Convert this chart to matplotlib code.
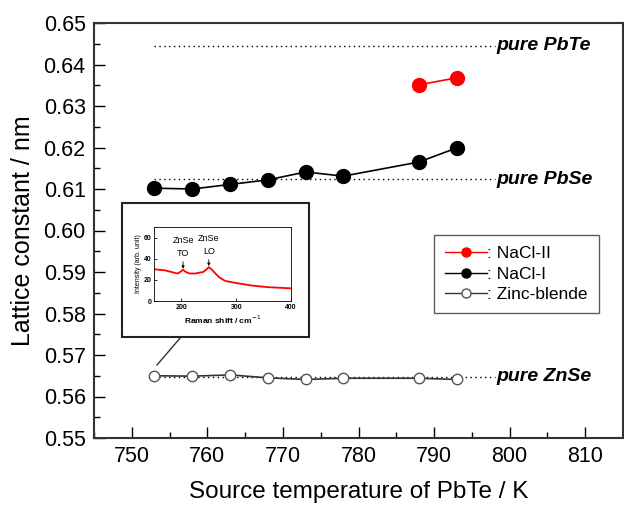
import matplotlib

matplotlib.use("Agg")
import matplotlib.pyplot as plt
from matplotlib.lines import Line2D
from matplotlib.patches import Rectangle

plt.rcParams["font.family"] = ["Liberation Sans", "DejaVu Sans"]

# main data
temp_nacl2 = [788, 793]
lat_nacl2 = [0.6351, 0.6368]
temp_nacl1 = [753, 758, 763, 768, 773, 778, 788, 793]
lat_nacl1 = [0.6102, 0.6100, 0.6111, 0.6122, 0.6141, 0.6131, 0.6165, 0.6199]
temp_zb = [753, 758, 763, 768, 773, 778, 788, 793]
lat_zb = [0.5650, 0.5649, 0.5652, 0.5645, 0.5641, 0.5644, 0.5644, 0.5641]

ref_names = ["pure PbTe", "pure PbSe", "pure ZnSe"]
ref_values = [0.6445, 0.6124, 0.5648]
ref_span = [753, 798]

# inset Raman spectrum
raman_shift = [150, 170, 185, 193, 198, 203, 208, 215, 225, 240, 246, 250, 255, 262,
               270, 280, 300, 330, 360, 400]
raman_int = [30, 29, 27, 26, 27.5, 29.5, 27.5, 26, 26, 27.5, 30, 32, 30, 26,
             22, 19, 17, 14.5, 13, 12]

W, H = 624, 507
fig = plt.figure(figsize=(W / 100, H / 100), dpi=100)
ax = fig.add_axes([94 / W, 1 - 438 / H, (623 - 94) / W, (438 - 23) / H])

for name, val in zip(ref_names, ref_values):
    ax.plot(ref_span, [val, val], ls=(0, (1, 2.5)), color="black", lw=1)
    ax.text(798.3, val, name, fontsize=14, fontweight="bold", fontstyle="italic",
            va="center", ha="left")

ax.plot(temp_zb, lat_zb, color="#333333", lw=1.2, marker="o", ms=7.5,
        mfc="white", mec="#555555", mew=1)
ax.plot(temp_nacl1, lat_nacl1, color="black", lw=1.2, marker="o", ms=10,
        mfc="black", mec="black")
ax.plot(temp_nacl2, lat_nacl2, color="red", lw=1.2, marker="o", ms=10,
        mfc="red", mec="red")

ax.set_xlim(745, 815)
ax.set_ylim(0.55, 0.65)
ax.set_xticks(range(750, 811, 10))
ax.set_xticks(range(745, 816, 5), minor=True)
ax.set_yticks([0.55 + 0.01 * i for i in range(11)])
ax.set_yticks([0.55 + 0.005 * i for i in range(21)], minor=True)
ax.yaxis.set_major_formatter(matplotlib.ticker.FormatStrFormatter("%.2f"))
ax.tick_params(direction="in", which="major", length=8, width=1, labelsize=15.5, pad=6)
ax.tick_params(direction="in", which="minor", length=4, width=1)
for s in ax.spines.values():
    s.set_linewidth(1.5)
    s.set_color("#333333")
ax.set_xlabel("Source temperature of PbTe / K", fontsize=17.5, labelpad=10)
ax.set_ylabel("Lattice constant / nm", fontsize=18, labelpad=6)

handles = [
    Line2D([], [], color="red", marker="o", ms=6.5, lw=1),
    Line2D([], [], color="black", marker="o", ms=6.5, lw=1),
    Line2D([], [], color="#333333", marker="o", ms=6.5, mfc="white", mec="#555555", lw=1),
]
leg = ax.legend(handles, [": NaCl-II", ": NaCl-I", ": Zinc-blende"],
                loc="upper left", bbox_to_anchor=((434 - 94) / (623 - 94), 1 - (235 - 23) / (438 - 23)),
                fontsize=12.5, frameon=True, fancybox=False, edgecolor="#333333",
                handlelength=2.4, handletextpad=0.0, borderpad=0.65, labelspacing=0.3,
                borderaxespad=0)
leg.get_frame().set_linewidth(1)

# inset box and inset axes
fig.patches.append(Rectangle((122 / W, 1 - 337 / H), (309 - 122) / W, (337 - 203) / H,
                             transform=fig.transFigure, fill=True, facecolor="white",
                             edgecolor="#222222", lw=1.5, zorder=3))
fig.lines.append(Line2D([181 / W, 157 / W], [1 - 337 / H, 1 - 365 / H],
                        transform=fig.transFigure, color="#333333", lw=1))

ins = fig.add_axes([154 / W, 1 - 301 / H, (291 - 154) / W, (301 - 227) / H], zorder=4)
ins.plot(raman_shift, raman_int, color="red", lw=1.3)
ins.set_xlim(150, 400)
ins.set_ylim(0, 70)
ins.set_xticks([200, 300, 400])
ins.set_yticks([0, 20, 40, 60])
ins.tick_params(direction="in", labelsize=5, length=2, width=0.6, pad=2)
for lab in ins.get_xticklabels() + ins.get_yticklabels():
    lab.set_fontweight("bold")
for s in ins.spines.values():
    s.set_linewidth(0.6)
ins.set_xlabel("Raman shift / cm$^{-1}$", fontsize=6, labelpad=2, fontweight="bold")
ins.set_ylabel("Intensity (arb. unit)", fontsize=5, labelpad=1)
arrow = dict(arrowstyle="-|>", lw=0.6, color="black", mutation_scale=4,
             shrinkA=1, shrinkB=0)
ins.annotate("ZnSe\nTO", xy=(203, 30.5), xytext=(203, 41), fontsize=6.5, ha="center",
             va="bottom", linespacing=1.5, arrowprops=arrow)
ins.annotate("ZnSe\nLO", xy=(250, 33), xytext=(250, 43), fontsize=6.5, ha="center",
             va="bottom", linespacing=1.5, arrowprops=arrow)

fig.savefig("out.png", dpi=100)
